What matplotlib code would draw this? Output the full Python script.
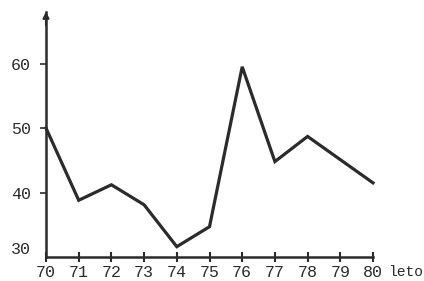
import matplotlib
matplotlib.use("Agg")
import matplotlib.pyplot as plt

years = [70, 71, 72, 73, 74, 75, 76, 77, 78, 79, 80]
values = [50, 38.8, 41.2, 38.1, 31.6, 34.7, 59.5, 44.8, 48.7, 45.1, 41.5]
x_ticks = years
y_ticks = [30, 40, 50, 60]
x_label = "leto"

ink = "#2b2b2b"
plt.rcParams['font.family'] = ['Liberation Mono', 'DejaVu Sans Mono']

fig = plt.figure(figsize=(4.24, 2.81), dpi=100)
ax = fig.add_axes([46/424, 24/281, 327/424, 245/281])
ax.plot(years, values, color=ink, lw=2.3, solid_joinstyle='miter', clip_on=False)
ax.set_xlim(70, 80)
ax.set_ylim(30, 68)
for s in ['top', 'right']:
    ax.spines[s].set_visible(False)
for s in ['left', 'bottom']:
    ax.spines[s].set_color(ink)
    ax.spines[s].set_linewidth(1.8)
ax.set_xticks(x_ticks)
ax.set_xticklabels([str(v) for v in x_ticks])
ax.set_yticks(y_ticks)
ax.set_yticklabels([str(v) for v in y_ticks])
ax.tick_params(axis='x', direction='inout', length=7, width=1.5, color=ink,
               labelsize=12, labelcolor=ink, pad=2)
ax.tick_params(axis='y', direction='out', length=4, width=1.2, color=ink,
               labelsize=12, labelcolor=ink, pad=7)
ax.yaxis.get_major_ticks()[0].tick1line.set_visible(False)
ax.get_yticklabels()[0].set_va('bottom')
ax.annotate('', xy=(70, 68.5), xytext=(70, 65.5),
            arrowprops=dict(arrowstyle='-|>', color=ink, lw=1.5, mutation_scale=9),
            annotation_clip=False)
fig.text(423/424, 1 - 265/281, x_label, ha='right', va='top',
         fontsize=10.5, color=ink)
fig.savefig("out.png", dpi=100, facecolor='white')
